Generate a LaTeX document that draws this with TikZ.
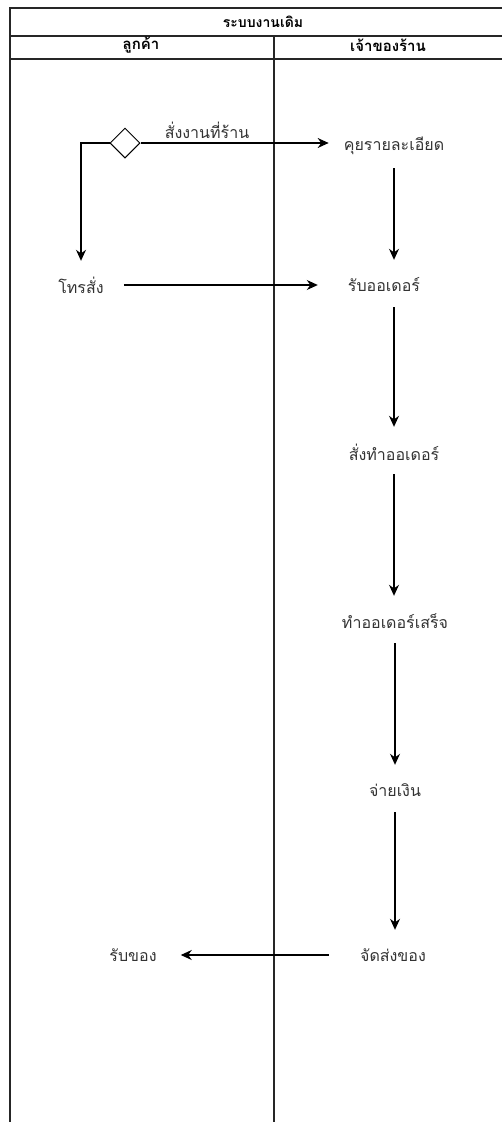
\documentclass[tikz,border=0pt]{standalone}
\usepackage{fontspec}
\newfontfamily\thaifont[Script=Thai]{Loma}
\usetikzlibrary{arrows.meta, positioning, shapes.geometric}
\tikzset{
    lane/.style={line width=1.3pt, draw=black!85},
    act/.style={font=\thaifont\fontsize{16}{18}\selectfont, text=black!80,
                inner xsep=0pt, minimum height=44pt},
    head/.style={font=\thaifont\bfseries\fontsize{15}{17}\selectfont},
    flow/.style={-{Stealth[length=11pt,width=10pt]}, line width=1.1pt}
}

\begin{document}
\begin{tikzpicture}[x=1pt,y=-1pt]
  \useasboundingbox (0,0) rectangle (502,1122);

  % swimlanes
  \draw[lane] (10,1122) -- (10,8) -- (502,8);
  \draw[lane] (10,36) -- (502,36);
  \draw[lane] (10,59) -- (502,59);
  \draw[lane] (274,36) -- (274,1122);
  \node[font=\thaifont\bfseries\fontsize{14}{16}\selectfont] (title) at (263,22) {ระบบงานเดิม};
  \node[head] (cust) at (141,45) {ลูกค้า};
  \node[head] (owner) at (388,45) {เจ้าของร้าน};

  % activities
  \node[diamond, draw, line width=1pt, minimum size=30pt, inner sep=0pt] (dec) at (125,143) {};
  \node[act] (talk) at (394,146) {คุยรายละเอียด};
  \node[act] (phone) at (81,285) {โทรสั่ง};
  \node[act] (order) at (384,285) {รับออเดอร์};
  \node[act] (make) at (394,452) {สั่งทำออเดอร์};
  \node[act] (done) at (395,621) {ทำออเดอร์เสร็จ};
  \node[act] (pay) at (395,790) {จ่ายเงิน};
  \node[act] (ship) at (393,955) {จัดส่งของ};
  \node[act] (get) at (133,955) {รับของ};
  \node[act, minimum height=0pt] (shop) at (207,130) {สั่งงานที่ร้าน};

  % flows
  \draw[flow] (dec.east) -- ([xshift=-15pt]dec.east -| talk.west);
  \draw[flow] (dec.west) -| ([yshift=2pt]phone.north);
  \draw[flow] ([xshift=20pt]phone.east) -- ([xshift=-30pt]order.west);
  \draw[flow] (talk.south) -- ([yshift=3pt]talk.south |- order.north);
  \draw[flow] ([xshift=10pt]order.south) -- ([yshift=3pt]make.north);
  \draw[flow] (make.south) -- ([yshift=3pt]make.south |- done.north);
  \draw[flow] (done.south) -- ([yshift=3pt]pay.north);
  \draw[flow] (pay.south) -- ([yshift=3pt]pay.south |- ship.north);
  \draw[flow] ([xshift=-31pt]ship.west) -- ([xshift=24pt]get.east);
\end{tikzpicture}
\end{document}
